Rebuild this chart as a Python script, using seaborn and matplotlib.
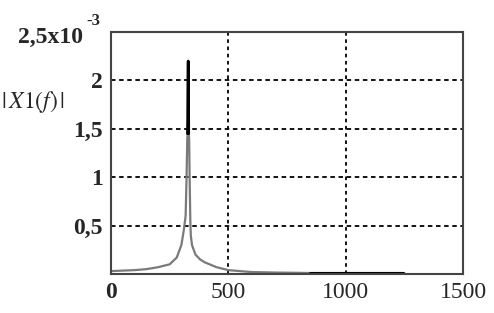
import numpy as np
import pandas as pd
import seaborn as sns
import matplotlib
matplotlib.use("Agg")
from matplotlib import pyplot as plt

# spectrum |X1(f)| (values in units of 1e-3)
freq = [0, 50, 100, 150, 200, 250, 280, 300, 310, 318, 322, 325, 327, 329,
        331, 333, 335, 338, 340, 345, 360, 380, 400, 450, 500, 550, 600, 700,
        800, 850, 900, 1000, 1100, 1200, 1250]
mag = [0.03, 0.035, 0.04, 0.05, 0.07, 0.10, 0.17, 0.30, 0.45, 0.60, 1.00, 1.40,
       1.45, 2.20, 1.45, 1.40, 1.00, 0.55, 0.40, 0.30, 0.20, 0.15, 0.12, 0.07,
       0.04, 0.03, 0.02, 0.015, 0.012, 0.01, 0.01, 0.01, 0.01, 0.01, 0.01]

# peak part drawn darker
peak_freq = [326, 327, 328, 329, 330, 331]
peak_mag = [1.45, 1.60, 2.10, 2.20, 2.05, 1.45]

# dark band along the axis
band_freq = [850, 1000, 1245]
band_mag = [0.008, 0.008, 0.008]

xticks = [0, 500, 1000, 1500]
xtick_labels = ["0", "500", "1000", "1500"]
yticks = [0.5, 1.0, 1.5, 2.0]
ytick_labels = ["0,5", "1", "1,5", "2"]

sns.set_style("white")
plt.rcParams["font.family"] = ["Liberation Serif", "DejaVu Serif"]
plt.rcParams["mathtext.fontset"] = "stix"

fig = plt.figure(figsize=(4.94, 3.13), dpi=100)
ax = fig.add_axes([0.2247, 0.1246, 0.7126, 0.773])

df = pd.DataFrame({"f": freq, "X": np.array(mag) * 1e-3})
dp = pd.DataFrame({"f": peak_freq, "X": np.array(peak_mag) * 1e-3})
db = pd.DataFrame({"f": band_freq, "X": np.array(band_mag) * 1e-3})

sns.lineplot(data=df, x="f", y="X", ax=ax, color="#7a7a7a", lw=1.6, sort=False)
sns.lineplot(data=dp, x="f", y="X", ax=ax, color="black", lw=2.0, sort=False)
sns.lineplot(data=db, x="f", y="X", ax=ax, color="black", lw=2.2, sort=False)

ax.set_xlim(0, 1500)
ax.set_ylim(0, 2.5e-3)

for v in [500, 1000]:
    ax.axvline(v, color="black", lw=1.3, ls=(0, (2, 2)), zorder=0)
for v in yticks:
    ax.axhline(v * 1e-3, color="black", lw=1.3, ls=(0, (2.5, 2)), zorder=0)

ax.set_xticks(xticks)
ax.set_xticklabels(xtick_labels, fontsize=17)
ax.get_xticklabels()[0].set_fontweight("bold")
ax.set_yticks([v * 1e-3 for v in yticks])
ax.set_yticklabels(ytick_labels, fontsize=17, fontweight="bold")
ax.tick_params(length=0, pad=6)
ax.set_xlabel("")
ax.set_ylabel("")

for s in ax.spines.values():
    s.set_color("#444444")
    s.set_linewidth(1.5)

fig.text(83 / 494, 1 - 37 / 313, "2,5x10", fontsize=17, fontweight="bold",
         ha="right", va="center")
fig.text(86 / 494, 1 - 21 / 313, "-3", fontsize=12, fontweight="bold",
         ha="left", va="center")
fig.text(33 / 494, 1 - 102 / 313, r"$|\,X1(f)\,|$", fontsize=17,
         ha="center", va="center")

fig.savefig("out.png", dpi=100)
